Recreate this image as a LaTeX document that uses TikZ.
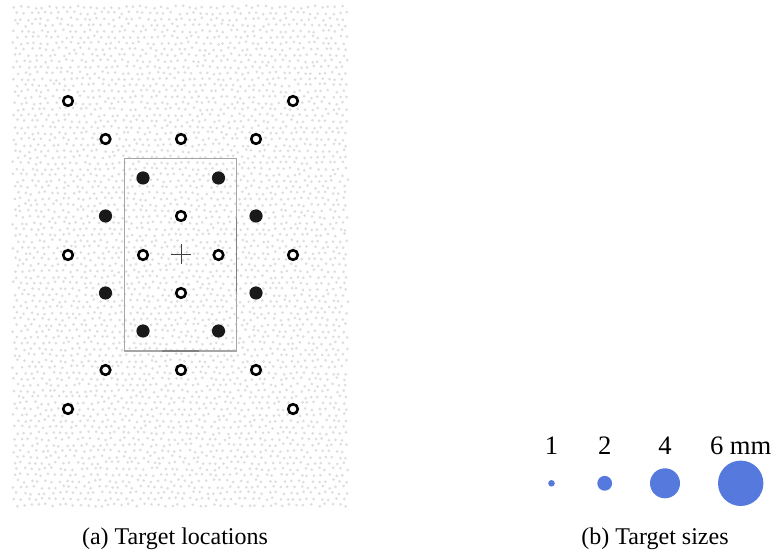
\documentclass[tikz,border=0pt]{standalone}
\usepackage{fontspec}
\setmainfont{Liberation Serif}
\definecolor{dotgray}{RGB}{222,222,222}
\definecolor{sizeblue}{RGB}{86,121,222}

\begin{document}
\begin{tikzpicture}[x=0.5pt,y=-0.5pt]
\useasboundingbox (0,0) rectangle (771,550);
\tikzset{ring/.style={draw=black,fill=white,line width=1.3},
  filled/.style={fill=black!90},
  sizedot/.style={fill=sizeblue}}

% speckled background
\pgfmathsetseed{7}
\foreach \j in {0,...,83}{
  \foreach \i in {0,...,47}{
    \pgfmathsetmacro{\px}{14+7*\i+3.5*mod(\j,2)+1.6*rand}
    \pgfmathsetmacro{\py}{7+6*\j+1.4*rand}
    \fill[dotgray] (\px,\py) circle (1.5);
  }
}

% frame and cross
\draw[black!35,line width=0.7](124.5,158.5) rectangle (236.5,351);
\draw[black!50,line width=0.7](236.5,218)--(236.5,292);
\draw[black!50,line width=0.7](162,351)--(199,351);
\draw[black!75,line width=0.45](171,254.5)--(191,254.5);
\draw[black!75,line width=0.45](181,244.5)--(181,264.5);

% outer targets
\draw[ring](68,101)circle (4.8);
\draw[ring](293,101)circle (4.8);
\draw[ring](105.5,139)circle (4.8);
\draw[ring](181,139)circle (4.8);
\draw[ring](256,139)circle (4.8);
\draw[ring](68,255)circle (4.8);
\draw[ring](293,255)circle (4.8);
\draw[ring](105.5,370)circle (4.8);
\draw[ring](181,370)circle (4.8);
\draw[ring](256,370)circle (4.8);
\draw[ring](68,409)circle (4.8);
\draw[ring](293,409)circle (4.8);

% inner targets
\draw[ring](181,216)circle (4.8);
\draw[ring](143,255)circle (4.8);
\draw[ring](218.5,255)circle (4.8);
\draw[ring](181,293)circle (4.8);

% filled targets
\fill[filled](143,178)circle (6.6);
\fill[filled](218.5,178)circle (6.6);
\fill[filled](105.5,216)circle (6.6);
\fill[filled](256,216)circle (6.6);
\fill[filled](105.5,293)circle (6.6);
\fill[filled](256,293)circle (6.6);
\fill[filled](143,331)circle (6.6);
\fill[filled](218.5,331)circle (6.6);

% target sizes
\fill[sizedot](551.5,483.3)circle (3.3);
\fill[sizedot](604.7,483.3)circle (7.4);
\fill[sizedot](665,483.3)circle (15);
\fill[sizedot](740.7,483.3)circle (22.7);
\node[anchor=base,font=\fontsize{13.3}{16}\selectfont] (l1) at (551.5,455) {1};
\node[anchor=base,font=\fontsize{13.3}{16}\selectfont] (l2) at (604.7,455) {2};
\node[anchor=base,font=\fontsize{13.3}{16}\selectfont] (l4) at (665,455) {4};
\node[anchor=base,font=\fontsize{13.3}{16}\selectfont] (l6) at (740.7,455) {6 mm};

% captions
\node[anchor=base,font=\fontsize{12}{14}\selectfont] (capa) at (175,544) {(a) Target locations};
\node[anchor=base,font=\fontsize{12}{14}\selectfont] (capb) at (655,544) {(b) Target sizes};
\end{tikzpicture}
\end{document}
